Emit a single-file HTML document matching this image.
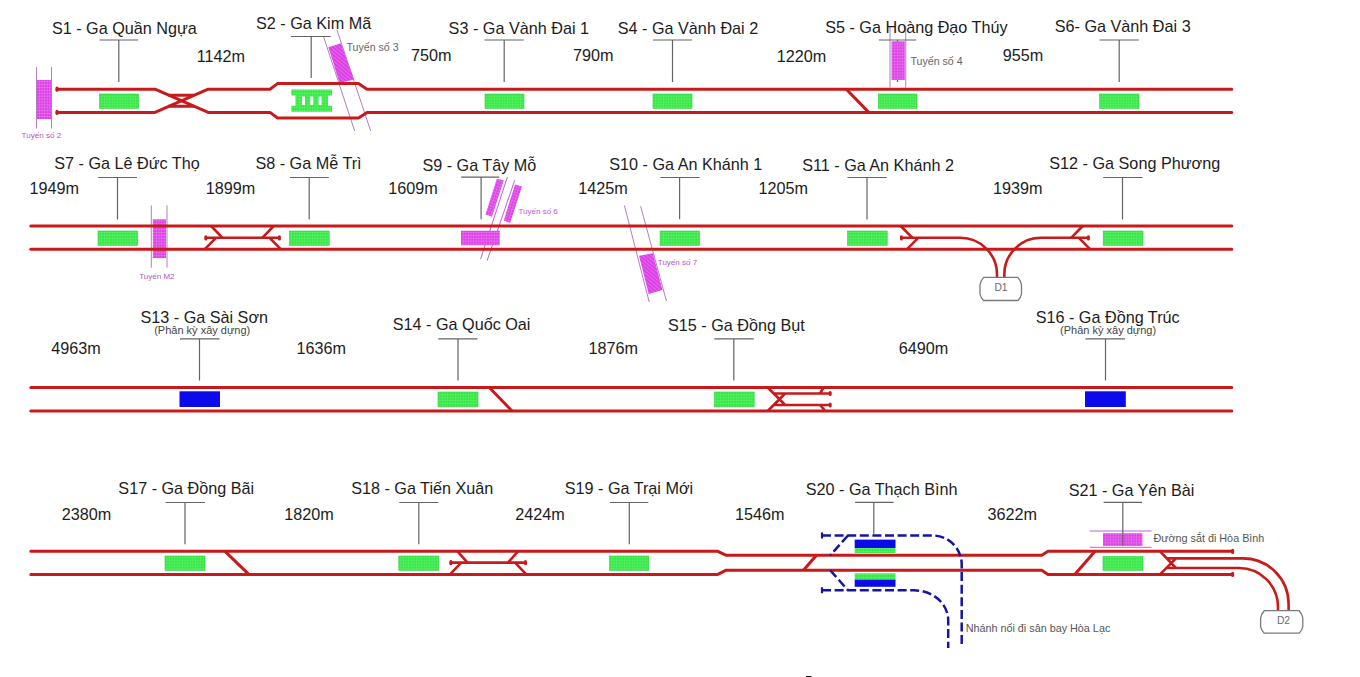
<!DOCTYPE html>
<html lang="vi"><head><meta charset="utf-8"><title>Sơ đồ tuyến</title>
<style>
html,body{margin:0;padding:0;background:#fff;}
body{width:1360px;height:677px;overflow:hidden;}
svg{display:block;font-family:"Liberation Sans",Arial,sans-serif;}
</style></head><body>
<svg width="1360" height="677" viewBox="0 0 1360 677">
<defs>
<pattern id="gp" width="2.6" height="2.9" patternUnits="userSpaceOnUse"><rect width="2.6" height="2.9" fill="#35e645"/><path d="M0 0H2.6M0 0V2.9" stroke="#7cf68a" stroke-width="0.7"/></pattern>
<pattern id="pp" width="2.6" height="2.9" patternUnits="userSpaceOnUse"><rect width="2.6" height="2.9" fill="#dc3fe6"/><path d="M0 0H2.6M0 0V2.9" stroke="#f19af2" stroke-width="0.7"/></pattern>
<pattern id="ppa" width="2.6" height="2.9" patternUnits="userSpaceOnUse" patternTransform="rotate(40)"><rect width="2.6" height="2.9" fill="#dc3fe6"/><path d="M0 0H2.6" stroke="#f19af2" stroke-width="0.8"/></pattern>
<pattern id="ppb" width="2.6" height="2.9" patternUnits="userSpaceOnUse" patternTransform="rotate(18)"><rect width="2.6" height="2.9" fill="#dc3fe6"/><path d="M0 0H2.6M0 0V2.9" stroke="#f19af2" stroke-width="0.7"/></pattern>
</defs>
<rect width="1360" height="677" fill="#fff"/>
<path d="M36.5 67L36.5 128.5" stroke="#b47cc4" stroke-width="1" fill="none"/>
<path d="M51.5 67L51.5 128.5" stroke="#b47cc4" stroke-width="1" fill="none"/>
<rect x="37" y="80" width="14" height="39" fill="url(#pp)"/>
<path d="M336.9 29.8L370.6 130.8" stroke="#b47cc4" stroke-width="1" fill="none"/>
<path d="M323.6 36.8L354.6 130.8" stroke="#b47cc4" stroke-width="1" fill="none"/>
<polygon points="328.4,47.2 340.9,43.2 354,79.6 339.5,83" fill="url(#ppa)"/>
<path d="M890 26L890 87.5" stroke="#b47cc4" stroke-width="1" fill="none"/>
<path d="M905.75 26L905.75 87.5" stroke="#b47cc4" stroke-width="1" fill="none"/>
<path d="M57 89.2H155L208.2 112.4H270L277.5 118H358.5L367 112.4H1231.8" stroke="#c81a1a" stroke-width="3" fill="none" stroke-linejoin="round" stroke-linecap="round"/>
<path d="M57 112.4H155L208.2 89.2H270L277.5 83.6H358.5L367 89.2H1231.8" stroke="#c81a1a" stroke-width="3" fill="none" stroke-linejoin="round" stroke-linecap="round"/>
<path d="M168.3 95.2H194M168.3 106.2H194" stroke="#c81a1a" stroke-width="3" fill="none" stroke-linejoin="round" />
<path d="M57 88.10000000000001V90.3" stroke="#c81a1a" stroke-width="3" stroke-linecap="round" fill="none"/>
<path d="M57 111.30000000000001V113.5" stroke="#c81a1a" stroke-width="3" stroke-linecap="round" fill="none"/>
<path d="M846.3 89.2L868.8 112.4" stroke="#c81a1a" stroke-width="3" fill="none" stroke-linejoin="round" />
<rect x="99.5" y="94" width="39.099999999999994" height="14.400000000000006" fill="url(#gp)" stroke="#2fd03f" stroke-width="0.6"/>
<path d="M291.3 89.6H332V95.6H328V105.8H332V111.8H291.3V105.8H295.5V95.6H291.3Z M302 96.4V105H305V96.4Z M310.3 96.4V105H313.3V96.4Z M318.6 96.4V105H321.6V96.4Z" fill="url(#gp)" fill-rule="evenodd"/>
<rect x="485" y="94" width="39" height="14.400000000000006" fill="url(#gp)" stroke="#2fd03f" stroke-width="0.6"/>
<rect x="653" y="94" width="39" height="14.400000000000006" fill="url(#gp)" stroke="#2fd03f" stroke-width="0.6"/>
<rect x="878.3" y="94" width="38.700000000000045" height="14.400000000000006" fill="url(#gp)" stroke="#2fd03f" stroke-width="0.6"/>
<rect x="1099.5" y="94" width="39.5" height="14.400000000000006" fill="url(#gp)" stroke="#2fd03f" stroke-width="0.6"/>
<path d="M99.5 40H138.2M118.8 40V82" stroke="#646464" stroke-width="1.2" fill="none"/>
<path d="M291 36.5H330.7M311.2 36.5V78" stroke="#646464" stroke-width="1.2" fill="none"/>
<path d="M484.5 40H523.8M504.2 40V82" stroke="#646464" stroke-width="1.2" fill="none"/>
<path d="M653 40H692M672.5 40V82" stroke="#646464" stroke-width="1.2" fill="none"/>
<path d="M878.8 40H916.2M897.5 40V82" stroke="#646464" stroke-width="1.2" fill="none"/>
<path d="M1099.5 40H1138.8M1119.2 40V82" stroke="#646464" stroke-width="1.2" fill="none"/>
<rect x="891.5" y="41.3" width="13.299999999999955" height="38.7" fill="url(#pp)"/>
<path d="M151.3 205.5L151.3 267.7" stroke="#b47cc4" stroke-width="1" fill="none"/>
<path d="M167 205.5L167 267.7" stroke="#b47cc4" stroke-width="1" fill="none"/>
<rect x="152.8" y="219.3" width="13.199999999999989" height="38.69999999999999" fill="url(#pp)"/>
<path d="M507.4 177L480.6 259" stroke="#c060d0" stroke-width="1" fill="none"/>
<path d="M514.7 180.3L487.1 260.7" stroke="#c060d0" stroke-width="1" fill="none"/>
<polygon points="496.8,178.7 503.7,180.3 492,216.8 485.5,214.4" fill="url(#ppb)"/>
<polygon points="515,184.4 522,186.5 510.2,223 503.8,220.4" fill="url(#ppb)"/>
<rect x="461" y="230.7" width="38.80000000000001" height="14.600000000000023" fill="url(#pp)"/>
<path d="M624.4 205.4L649.2 302" stroke="#b47cc4" stroke-width="1" fill="none"/>
<path d="M640.6 206.2L666.4 301" stroke="#b47cc4" stroke-width="1" fill="none"/>
<polygon points="639,255.8 652.8,253.3 662.5,289.9 648.7,294" fill="url(#ppa)"/>
<path d="M30.8 226H1231.8" stroke="#c81a1a" stroke-width="3" fill="none" stroke-linejoin="round" stroke-linecap="round"/>
<path d="M30.8 249.3H1231.8" stroke="#c81a1a" stroke-width="3" fill="none" stroke-linejoin="round" stroke-linecap="round"/>
<path d="M205.8 237.8H279.4" stroke="#c81a1a" stroke-width="2.6" fill="none" stroke-linejoin="round" />
<path d="M205.8 236.70000000000002V238.9" stroke="#c81a1a" stroke-width="3" stroke-linecap="round" fill="none"/>
<path d="M279.4 236.70000000000002V238.9" stroke="#c81a1a" stroke-width="3" stroke-linecap="round" fill="none"/>
<path d="M211.1 226L222.5 237.8M216 237.8L204.6 249.3M273.7 226L262.3 237.8M269.6 237.8L281 249.3" stroke="#c81a1a" stroke-width="2.6" fill="none" stroke-linejoin="round" />
<path d="M901.4 237.8H960.3A36.7 36.7 0 0 1 997 274.5V278M1004.3 278V274.5A36.7 36.7 0 0 1 1041 237.8H1088.4" stroke="#c81a1a" stroke-width="2.6" fill="none" stroke-linejoin="round" />
<path d="M901.4 236.70000000000002V238.9" stroke="#c81a1a" stroke-width="3" stroke-linecap="round" fill="none"/>
<path d="M1088.4 236.70000000000002V238.9" stroke="#c81a1a" stroke-width="3" stroke-linecap="round" fill="none"/>
<path d="M900.7 226L912.5 237.8M918.2 237.8L906.8 249.3M1082.7 226L1071.2 237.8M1078.9 237.8L1090.3 249.3" stroke="#c81a1a" stroke-width="2.6" fill="none" stroke-linejoin="round" />
<path d="M983.6 277.4H1017.9Q1020.9 280.775 1021.5 284.9V294.0Q1020.9 297.575 1017.9 300.5H983.6Q980.6 297.575 980 294.0V284.9Q980.6 280.775 983.6 277.4Z" fill="#fff" stroke="#7a7a7a" stroke-width="1.3" stroke-linejoin="round"/>
<text x="1001" y="291" font-size="10.3" fill="#6a6a6a" text-anchor="middle" >D1</text>
<rect x="98" y="231" width="39.5" height="14.400000000000006" fill="url(#gp)" stroke="#2fd03f" stroke-width="0.6"/>
<rect x="289.5" y="231" width="39.69999999999999" height="14.400000000000006" fill="url(#gp)" stroke="#2fd03f" stroke-width="0.6"/>
<rect x="660.1" y="231" width="39.299999999999955" height="14.400000000000006" fill="url(#gp)" stroke="#2fd03f" stroke-width="0.6"/>
<rect x="847.5" y="231" width="39.700000000000045" height="14.400000000000006" fill="url(#gp)" stroke="#2fd03f" stroke-width="0.6"/>
<rect x="1103.2" y="231" width="39.799999999999955" height="14.400000000000006" fill="url(#gp)" stroke="#2fd03f" stroke-width="0.6"/>
<path d="M98.2 177.5H137M117.5 177.5V219.5" stroke="#646464" stroke-width="1.2" fill="none"/>
<path d="M290 177.5H328.8M309.2 177.5V219.5" stroke="#646464" stroke-width="1.2" fill="none"/>
<path d="M461.1 177.2H499.3M481.1 177.2V219.3" stroke="#646464" stroke-width="1.2" fill="none"/>
<path d="M660.5 177.5H699.5M679.6 177.5V219.3" stroke="#646464" stroke-width="1.2" fill="none"/>
<path d="M847.5 177.5H886.8M867 177.5V219.5" stroke="#646464" stroke-width="1.2" fill="none"/>
<path d="M1103.2 177.5H1142.5M1122.5 177.5V219.5" stroke="#646464" stroke-width="1.2" fill="none"/>
<path d="M30.8 387.5H1231.8" stroke="#c81a1a" stroke-width="3" fill="none" stroke-linejoin="round" stroke-linecap="round"/>
<path d="M30.8 411H1231.8" stroke="#c81a1a" stroke-width="3" fill="none" stroke-linejoin="round" stroke-linecap="round"/>
<path d="M489.3 387.5L512 411" stroke="#c81a1a" stroke-width="3" fill="none" stroke-linejoin="round" />
<path d="M767.7 387.5L785.2 405H830.2M767.7 411L785.2 393.5H830.2M774 393.5H786M774 405H786" stroke="#c81a1a" stroke-width="2.6" fill="none" stroke-linejoin="round" />
<path d="M823.6 387.5L820 393.5M820 405L825.4 411" stroke="#c81a1a" stroke-width="2.6" fill="none" stroke-linejoin="round" />
<path d="M830.2 392.6V394.4" stroke="#c81a1a" stroke-width="3" stroke-linecap="round" fill="none"/>
<path d="M830.2 404.1V405.9" stroke="#c81a1a" stroke-width="3" stroke-linecap="round" fill="none"/>
<rect x="179.5" y="391.3" width="40.5" height="15.699999999999989" fill="#0a0aea"/>
<rect x="1085" y="391.3" width="40.799999999999955" height="15.699999999999989" fill="#0a0aea"/>
<rect x="438" y="392" width="40" height="14.800000000000011" fill="url(#gp)" stroke="#2fd03f" stroke-width="0.6"/>
<rect x="714.3" y="392" width="39.90000000000009" height="14.800000000000011" fill="url(#gp)" stroke="#2fd03f" stroke-width="0.6"/>
<path d="M180 338.8H219.5M199.5 338.8V380.5" stroke="#646464" stroke-width="1.2" fill="none"/>
<path d="M438.3 338.8H477.5M458 338.8V380.5" stroke="#646464" stroke-width="1.2" fill="none"/>
<path d="M714.3 338.8H753.8M733.8 338.8V380.5" stroke="#646464" stroke-width="1.2" fill="none"/>
<path d="M1085.5 338.8H1125M1105.5 338.8V380.5" stroke="#646464" stroke-width="1.2" fill="none"/>
<path d="M1089.7 531L1151.5 531" stroke="#c060d0" stroke-width="1" fill="none"/>
<path d="M1089.7 547.3L1151.5 547.3" stroke="#c060d0" stroke-width="1" fill="none"/>
<rect x="1103" y="533.2" width="39.40000000000009" height="12.799999999999955" fill="url(#pp)"/>
<path d="M30.8 551.3H717.8L725.8 555.2H1041.7L1048 551.3H1232.6" stroke="#c81a1a" stroke-width="3" fill="none" stroke-linejoin="round" stroke-linecap="round"/>
<path d="M30.8 574.4H717.8L725.8 570.3H1041.7L1048 574.4H1232.6" stroke="#c81a1a" stroke-width="3" fill="none" stroke-linejoin="round" stroke-linecap="round"/>
<path d="M1232.6 550.1999999999999V552.4" stroke="#c81a1a" stroke-width="3" stroke-linecap="round" fill="none"/>
<path d="M1232.6 573.3V575.5" stroke="#c81a1a" stroke-width="3" stroke-linecap="round" fill="none"/>
<path d="M225 551.3L248.8 574.4" stroke="#c81a1a" stroke-width="3" fill="none" stroke-linejoin="round" />
<path d="M450.8 562.6H525.5" stroke="#c81a1a" stroke-width="2.6" fill="none" stroke-linejoin="round" />
<path d="M450.8 561.5V563.7" stroke="#c81a1a" stroke-width="3" stroke-linecap="round" fill="none"/>
<path d="M525.5 561.5V563.7" stroke="#c81a1a" stroke-width="3" stroke-linecap="round" fill="none"/>
<path d="M457.5 551.3L467.5 562.6M461.3 562.6L450 574.4M518 551.3L508 562.6M515 562.6L526.3 574.4" stroke="#c81a1a" stroke-width="2.6" fill="none" stroke-linejoin="round" />
<path d="M816.5 555.2L803.4 570.3" stroke="#c81a1a" stroke-width="3" fill="none" stroke-linejoin="round" />
<path d="M1095 551.3L1074.8 574.4" stroke="#c81a1a" stroke-width="3" fill="none" stroke-linejoin="round" />
<path d="M1160 551.3L1176 568H1239A39 39 0 0 1 1278 607V611M1160 574.4L1176 558.4H1243A45.6 45.6 0 0 1 1288.6 604V611M1166.5 558.4H1177M1166.5 568H1177" stroke="#c81a1a" stroke-width="2.6" fill="none" stroke-linejoin="round" />
<path d="M1264.1999999999998 610.7H1299.2Q1302.2 614.075 1302.8 618.2V626.7Q1302.2 630.2750000000001 1299.2 633.2H1264.1999999999998Q1261.1999999999998 630.2750000000001 1260.6 626.7V618.2Q1261.1999999999998 614.075 1264.1999999999998 610.7Z" fill="#fff" stroke="#7a7a7a" stroke-width="1.3" stroke-linejoin="round"/>
<text x="1283.5" y="624.4" font-size="10.3" fill="#6a6a6a" text-anchor="middle" >D2</text>
<path d="M822 535.5H932.7A29 29 0 0 1 961.7 564.5V646" stroke="#1515a5" stroke-width="2.5" fill="none" stroke-dasharray="9 3.6"/>
<path d="M822 590.3H914A34.2 30 0 0 1 948.2 620.3V648" stroke="#1515a5" stroke-width="2.5" fill="none" stroke-dasharray="9 3.6"/>
<path d="M848 535.5L830.3 555.2M830.3 570.3L848 590.3" stroke="#1515a5" stroke-width="2.5" fill="none" stroke-dasharray="9 3.6"/>
<path d="M822 532.5V538.5M822 587.3V593.3" stroke="#1515a5" stroke-width="2.2" fill="none"/>
<rect x="854.7" y="539.6" width="40.799999999999955" height="8.399999999999977" fill="#0a0aea"/>
<rect x="854.7" y="548" width="40.8" height="5" fill="url(#gp)"/>
<rect x="854.7" y="573.4" width="40.8" height="6.2" fill="url(#gp)"/>
<rect x="854.7" y="579.6" width="40.799999999999955" height="7.199999999999932" fill="#0a0aea"/>
<rect x="165" y="556" width="40" height="14.399999999999977" fill="url(#gp)" stroke="#2fd03f" stroke-width="0.6"/>
<rect x="398.8" y="556" width="40.0" height="14.399999999999977" fill="url(#gp)" stroke="#2fd03f" stroke-width="0.6"/>
<rect x="609.5" y="556" width="39.299999999999955" height="14.399999999999977" fill="url(#gp)" stroke="#2fd03f" stroke-width="0.6"/>
<rect x="1103" y="556.4" width="40" height="14.0" fill="url(#gp)" stroke="#2fd03f" stroke-width="0.6"/>
<path d="M165.5 502.5H205M185 502.5V544.3" stroke="#646464" stroke-width="1.2" fill="none"/>
<path d="M399.3 502.5H438.3M418.8 502.5V544.3" stroke="#646464" stroke-width="1.2" fill="none"/>
<path d="M610 502.5H648.3M629.3 502.5V544.3" stroke="#646464" stroke-width="1.2" fill="none"/>
<path d="M855.2 502.3H893.6M873.8 502.3V534" stroke="#646464" stroke-width="1.2" fill="none"/>
<path d="M1103.6 502.3H1142M1122.8 502.3V546" stroke="#646464" stroke-width="1.2" fill="none"/>
<text x="51.89" y="33.8" font-size="16.2" fill="#1c1c1c" text-anchor="start" >S1 - Ga Quần Ngựa</text>
<text x="256.03" y="29.2" font-size="16.2" fill="#1c1c1c" text-anchor="start" >S2 - Ga Kim Mã</text>
<text x="448.61" y="33.8" font-size="16.2" fill="#1c1c1c" text-anchor="start" >S3 - Ga Vành Đai 1</text>
<text x="617.81" y="33.8" font-size="16.2" fill="#1c1c1c" text-anchor="start" >S4 - Ga Vành Đai 2</text>
<text x="825.18" y="33.1" font-size="16.2" fill="#1c1c1c" text-anchor="start" >S5 - Ga Hoàng Đạo Thúy</text>
<text x="1054.78" y="32.3" font-size="16.2" fill="#1c1c1c" text-anchor="start" >S6- Ga Vành Đai 3</text>
<text x="196.78" y="61.5" font-size="16.2" fill="#1c1c1c" text-anchor="start" >1142m</text>
<text x="411.09" y="61.3" font-size="16.2" fill="#1c1c1c" text-anchor="start" >750m</text>
<text x="572.89" y="61.3" font-size="16.2" fill="#1c1c1c" text-anchor="start" >790m</text>
<text x="776.68" y="61.5" font-size="16.2" fill="#1c1c1c" text-anchor="start" >1220m</text>
<text x="1002.82" y="61.3" font-size="16.2" fill="#1c1c1c" text-anchor="start" >955m</text>
<text x="54.27" y="169.3" font-size="16.2" fill="#1c1c1c" text-anchor="start" >S7 - Ga Lê Đức Thọ</text>
<text x="255.44" y="169.3" font-size="16.2" fill="#1c1c1c" text-anchor="start" >S8 - Ga Mễ Trì</text>
<text x="422.4" y="170.5" font-size="16.2" fill="#1c1c1c" text-anchor="start" >S9 - Ga Tây Mỗ</text>
<text x="609.25" y="170.2" font-size="16.2" fill="#1c1c1c" text-anchor="start" >S10 - Ga An Khánh 1</text>
<text x="802.15" y="170.5" font-size="16.2" fill="#1c1c1c" text-anchor="start" >S11 - Ga An Khánh 2</text>
<text x="1049.3" y="169.3" font-size="16.2" fill="#1c1c1c" text-anchor="start" >S12 - Ga Song Phương</text>
<text x="29.58" y="193.9" font-size="16.2" fill="#1c1c1c" text-anchor="start" >1949m</text>
<text x="205.63" y="193.9" font-size="16.2" fill="#1c1c1c" text-anchor="start" >1899m</text>
<text x="388.23" y="193.9" font-size="16.2" fill="#1c1c1c" text-anchor="start" >1609m</text>
<text x="578.23" y="193.9" font-size="16.2" fill="#1c1c1c" text-anchor="start" >1425m</text>
<text x="758.38" y="193.9" font-size="16.2" fill="#1c1c1c" text-anchor="start" >1205m</text>
<text x="993.08" y="193.9" font-size="16.2" fill="#1c1c1c" text-anchor="start" >1939m</text>
<text x="140.44" y="323.0" font-size="16.2" fill="#1c1c1c" text-anchor="start" >S13 - Ga Sài Sơn</text>
<text x="392.8" y="330.0" font-size="16.2" fill="#1c1c1c" text-anchor="start" >S14 - Ga Quốc Oai</text>
<text x="668.02" y="330.9" font-size="16.2" fill="#1c1c1c" text-anchor="start" >S15 - Ga Đồng Bụt</text>
<text x="1035.66" y="323.0" font-size="16.2" fill="#1c1c1c" text-anchor="start" >S16 - Ga Đồng Trúc</text>
<text x="51.23" y="353.8" font-size="16.2" fill="#1c1c1c" text-anchor="start" >4963m</text>
<text x="296.43" y="353.8" font-size="16.2" fill="#1c1c1c" text-anchor="start" >1636m</text>
<text x="588.53" y="353.8" font-size="16.2" fill="#1c1c1c" text-anchor="start" >1876m</text>
<text x="898.74" y="353.8" font-size="16.2" fill="#1c1c1c" text-anchor="start" >6490m</text>
<text x="118.34" y="494.3" font-size="16.2" fill="#1c1c1c" text-anchor="start" >S17 - Ga Đồng Bãi</text>
<text x="351.14" y="494.3" font-size="16.2" fill="#1c1c1c" text-anchor="start" >S18 - Ga Tiến Xuân</text>
<text x="564.71" y="493.5" font-size="16.2" fill="#1c1c1c" text-anchor="start" >S19 - Ga Trại Mới</text>
<text x="805.69" y="494.9" font-size="16.2" fill="#1c1c1c" text-anchor="start" >S20 - Ga Thạch Bình</text>
<text x="1068.64" y="495.5" font-size="16.2" fill="#1c1c1c" text-anchor="start" >S21 - Ga Yên Bài</text>
<text x="61.74" y="519.8" font-size="16.2" fill="#1c1c1c" text-anchor="start" >2380m</text>
<text x="284.33" y="519.8" font-size="16.2" fill="#1c1c1c" text-anchor="start" >1820m</text>
<text x="515.24" y="519.8" font-size="16.2" fill="#1c1c1c" text-anchor="start" >2424m</text>
<text x="735.03" y="519.8" font-size="16.2" fill="#1c1c1c" text-anchor="start" >1546m</text>
<text x="987.45" y="519.8" font-size="16.2" fill="#1c1c1c" text-anchor="start" >3622m</text>
<text x="154.2" y="334.1" font-size="11" fill="#444" text-anchor="start" >(Phân kỳ xây dựng)</text>
<text x="1060.1" y="334.1" font-size="11" fill="#444" text-anchor="start" >(Phân kỳ xây dựng)</text>
<text x="21.52" y="137.7" font-size="8.1" fill="#b455c4" text-anchor="start" >Tuyến số 2</text>
<text x="346.51" y="50.9" font-size="10.6" fill="#666" text-anchor="start" >Tuyến số 3</text>
<text x="910.51" y="65.3" font-size="10.6" fill="#666" text-anchor="start" >Tuyến số 4</text>
<text x="139.27" y="279.3" font-size="8" fill="#b455c4" text-anchor="start" >Tuyến M2</text>
<text x="518.52" y="214.3" font-size="8" fill="#c455d4" text-anchor="start" >Tuyến số 6</text>
<text x="657.81" y="265.3" font-size="8" fill="#b455c4" text-anchor="start" >Tuyến số 7</text>
<text x="1153.42" y="542.3" font-size="10.8" fill="#555" text-anchor="start" >Đường sắt đi Hòa Bình</text>
<text x="965.63" y="632.3" font-size="10.8" fill="#555" text-anchor="start" >Nhánh nối đi sân bay Hòa Lạc</text>
<rect x="806" y="676" width="5.5" height="1" fill="#111"/>
</svg>
</body></html>
